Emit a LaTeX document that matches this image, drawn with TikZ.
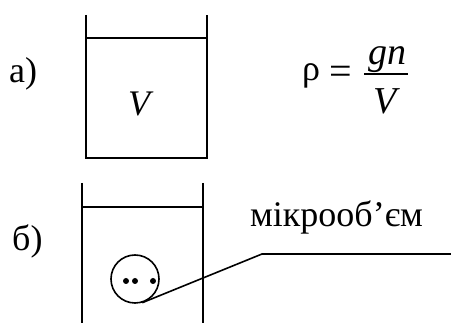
\documentclass[tikz,border=0pt]{standalone}
\usepackage{fontspec}
\setmainfont{LiberationSerif}[Extension=.ttf, UprightFont=*-Regular, ItalicFont=*-Italic, BoldFont=*-Bold, BoldItalicFont=*-BoldItalic]
\begin{document}
\begin{tikzpicture}[x=1pt,y=-1pt,
  wall/.style={line width=1.6pt},
  lbl/.style={font=\fontsize{36}{42}\selectfont, inner sep=0pt, anchor=base west},
  dotm/.style={fill=black}]
\useasboundingbox (0,0) rectangle (451,323);
% (a) vessel
\draw[wall] (86,15) -- (86,158) -- (207,158) -- (207,15);
\draw[wall] (86,38) -- (207,38);
\node[lbl] (la) at (9,83) {а)};
\node[lbl, anchor=base] (Va) at (139,116) {\itshape V};
% formula
\node[lbl] (rho) at (302,81) {ρ};
\node[lbl, anchor=center, font=\fontsize{40}{46}\selectfont] (eq) at (341,75) {=};
\node[lbl, anchor=base, font=\fontsize{38}{44}\selectfont] (num) at (387,65) {\itshape gn};
\node[lbl, anchor=base, font=\fontsize{38}{44}\selectfont] (den) at (385,114) {\itshape V};
\draw[line width=1.2pt] (364,74) -- (408,74);
% (b) vessel
\draw[wall] (82,183) -- (82,323);
\draw[wall] (203,183) -- (203,323);
\draw[wall] (82,207) -- (203,207);
\node[lbl] (lb) at (12,251) {б)};
\node[draw, circle, line width=1.6pt, minimum size=48pt, inner sep=0pt] (c) at (135,279) {};
\fill[dotm] (126,281) circle (3);
\fill[dotm] (135,281) circle (3);
\fill[dotm] (153,281) circle (3);
\node[lbl] (mt) at (250,227) {мікрооб’єм};
\coordinate (k) at (262,254);
\coordinate (e) at (451,254);
\draw[wall] (c.-73) -- (k) -- (e);
\end{tikzpicture}
\end{document}
